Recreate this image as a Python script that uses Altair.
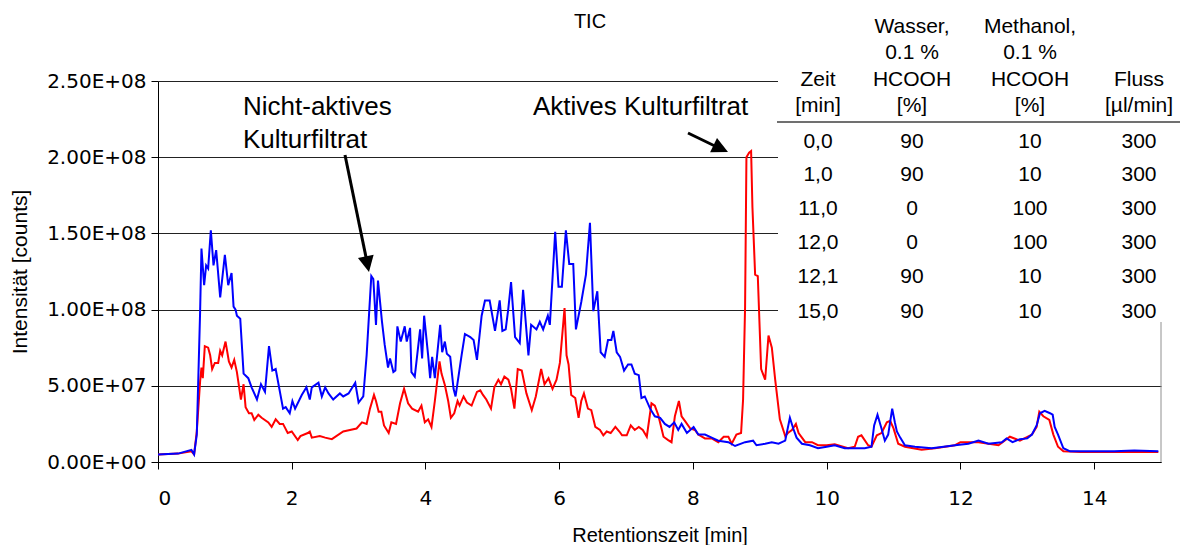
import altair as alt
import pandas as pd

# ---------------- data (minutes, intensity in millions of counts) ----------------
blue_t = [0.00, 0.30, 0.50, 0.54, 0.58, 0.63, 0.65, 0.69, 0.72, 0.75, 0.79, 0.83, 0.87, 0.93, 1.00,
          1.05, 1.10, 1.13, 1.16, 1.18, 1.23, 1.28, 1.35, 1.40, 1.48, 1.54, 1.60, 1.66, 1.71, 1.76,
          1.87, 1.91, 1.97, 2.01, 2.05, 2.15, 2.22, 2.27, 2.30, 2.40, 2.45, 2.50, 2.55, 2.62, 2.72,
          2.77, 2.85, 2.95, 3.00, 3.07, 3.12, 3.19, 3.22, 3.26, 3.29, 3.35, 3.39, 3.44, 3.47, 3.52,
          3.55, 3.58, 3.63, 3.69, 3.72, 3.77, 3.79, 3.84, 3.92, 3.95, 3.98, 4.04, 4.07, 4.10, 4.14,
          4.22, 4.25, 4.29, 4.32, 4.37, 4.42, 4.45, 4.54, 4.59, 4.67, 4.72, 4.77, 4.84, 4.89, 4.96,
          5.04, 5.11, 5.15, 5.20, 5.24, 5.28, 5.34, 5.41, 5.46, 5.54, 5.58, 5.66, 5.71, 5.76, 5.83,
          5.86, 5.94, 5.99, 6.04, 6.10, 6.15, 6.21, 6.25, 6.33, 6.40, 6.46, 6.51, 6.57, 6.62, 6.68,
          6.73, 6.78, 6.81, 6.86, 6.91, 6.97, 7.03, 7.08, 7.13, 7.19, 7.23, 7.28, 7.36, 7.43, 7.51,
          7.58, 7.65, 7.72, 7.78, 7.83, 7.91, 8.01, 8.08, 8.18, 8.28, 8.38, 8.53, 8.63, 8.78, 8.90,
          8.95, 9.08, 9.18, 9.28, 9.38, 9.45, 9.50, 9.55, 9.63, 9.75, 9.87, 10.00, 10.12, 10.27, 10.57,
          10.67, 10.71, 10.76, 10.82, 10.87, 10.92, 10.98, 11.02, 11.05, 11.10, 11.17, 11.32, 11.57, 11.75, 11.92,
          12.12, 12.27, 12.42, 12.62, 12.69, 12.78, 12.89, 13.00, 13.07, 13.14, 13.19, 13.26, 13.34, 13.38, 13.41,
          13.46, 13.54, 13.64, 14.00, 14.30, 14.60, 14.96]
blue_v = [5, 5.5, 8, 5, 18, 99, 140, 116, 129, 127, 152, 129, 139, 108, 136,
          116, 124, 102, 100, 96, 94, 58, 55, 49, 41, 51, 46, 76, 60, 61,
          35, 36, 32, 40, 35, 44, 49, 41, 49, 52, 43, 49, 45, 41, 45,
          43, 45, 52, 39, 43, 70, 122, 120, 90, 119, 92, 77, 62, 68, 59,
          60, 89, 79, 89, 79, 88, 59, 56, 87, 68, 96, 70, 55, 69, 55,
          90, 72, 79, 71, 69, 48, 43, 70, 84, 82, 80, 67, 96, 106, 106,
          86, 106, 86, 87, 101, 118, 82, 78, 113, 70, 90, 87, 92, 87, 96,
          90, 151, 115, 115, 152, 130, 130, 87, 105, 123, 157, 99, 112, 72, 69,
          80, 80, 86, 72, 69, 60, 64, 64, 58, 57, 42, 43, 35, 30, 29,
          25, 23, 26, 21, 25, 19, 23, 18, 18, 16, 14, 13, 10.5, 13, 14,
          11, 12, 13, 12, 14, 29, 22, 16, 12, 11, 9, 10, 11, 9, 9,
          10, 24, 31, 22, 14, 18, 35, 26, 20, 16, 11, 10, 9, 10, 11,
          12, 14, 12, 13, 15.5, 13, 15, 15.5, 18, 24, 32, 33.5, 32, 31, 23,
          18, 9, 7, 7, 7, 7.5, 7]

red_t = [0.00, 0.30, 0.50, 0.54, 0.58, 0.63, 0.65, 0.67, 0.70, 0.75, 0.78, 0.81, 0.85, 0.90, 0.93,
         0.96, 1.01, 1.06, 1.10, 1.14, 1.18, 1.20, 1.24, 1.28, 1.31, 1.36, 1.40, 1.44, 1.50, 1.55,
         1.65, 1.70, 1.76, 1.82, 1.87, 1.94, 2.00, 2.09, 2.13, 2.24, 2.27, 2.30, 2.42, 2.50, 2.60,
         2.77, 2.87, 2.97, 3.05, 3.12, 3.17, 3.23, 3.26, 3.30, 3.34, 3.38, 3.45, 3.49, 3.56, 3.62,
         3.68, 3.74, 3.80, 3.89, 3.94, 3.99, 4.04, 4.09, 4.14, 4.21, 4.24, 4.29, 4.34, 4.38, 4.43,
         4.48, 4.51, 4.57, 4.62, 4.69, 4.77, 4.82, 4.86, 4.91, 4.98, 5.03, 5.09, 5.13, 5.18, 5.24,
         5.28, 5.33, 5.38, 5.44, 5.51, 5.59, 5.65, 5.73, 5.78, 5.84, 5.90, 5.96, 6.01, 6.08, 6.11,
         6.14, 6.18, 6.24, 6.29, 6.33, 6.37, 6.43, 6.48, 6.54, 6.61, 6.66, 6.71, 6.77, 6.84, 6.90,
         6.94, 7.01, 7.07, 7.13, 7.19, 7.25, 7.31, 7.38, 7.43, 7.48, 7.56, 7.63, 7.68, 7.73, 7.79,
         7.83, 7.88, 7.96, 8.03, 8.08, 8.18, 8.28, 8.38, 8.46, 8.53, 8.58, 8.65, 8.72, 8.75, 8.78,
         8.80, 8.84, 8.87, 8.89, 8.93, 8.97, 9.02, 9.08, 9.13, 9.18, 9.23, 9.30, 9.38, 9.42, 9.48,
         9.54, 9.58, 9.68, 9.78, 9.87, 10.00, 10.12, 10.32, 10.42, 10.47, 10.52, 10.62, 10.67, 10.75, 10.82,
         10.90, 10.95, 11.00, 11.07, 11.17, 11.42, 11.62, 11.92, 12.00, 12.27, 12.57, 12.74, 12.89, 13.07, 13.14,
         13.18, 13.24, 13.33, 13.39, 13.46, 13.54, 13.80, 14.20, 14.60, 14.96]
red_v = [5, 5.5, 7, 5, 20, 53, 62, 55, 76, 75, 70, 61, 65, 65, 73,
         70, 79, 66, 62, 67, 59, 53, 41, 51, 36, 32, 32, 27.6, 31, 29,
         26, 23, 28, 25, 25, 19, 20, 14.4, 17, 19, 20, 16, 17, 16, 15,
         20, 21, 22, 26, 25, 35, 44, 40, 33, 33, 24, 19, 26, 25, 38.5,
         48, 38.5, 35, 33, 37, 26, 28, 23, 40, 66, 58, 50.5, 40, 29, 32,
         40, 37, 43, 39, 37, 46, 47, 44, 41, 35, 49, 54, 51, 56, 54,
         48, 35, 61, 60, 45, 34, 43, 61, 51, 55, 48, 54, 65, 101, 70,
         64, 44, 42, 29, 40, 45, 35, 34, 23, 21, 17.5, 20, 19, 23, 20,
         17.5, 17.5, 24, 21, 23, 21, 16.6, 38.5, 37, 31, 16.6, 14.4, 13, 30, 40,
         30, 27, 22, 21, 18, 15.5, 15.5, 13, 16.6, 16.6, 12, 18, 19, 41, 102,
         200, 203, 204, 167, 123, 122, 61, 54, 83, 75, 54, 28, 17, 19, 21,
         25, 19, 13, 13, 11, 11, 11.6, 9, 10, 16.6, 17.5, 11, 10, 17.5, 19,
         26, 27, 22, 12, 10, 8, 9, 11, 13, 13, 11, 16.6, 14, 18, 23,
         33, 30, 27.6, 18, 10, 7, 6.5, 6.5, 6.5, 6.5]

x_ticks = [0, 2, 4, 6, 8, 10, 12, 14]
y_ticks = [0, 50, 100, 150, 200, 250]

# gradient table
tab_zeit = ["0,0", "1,0", "11,0", "12,0", "12,1", "15,0"]
tab_wasser = ["90", "90", "0", "0", "90", "90"]
tab_methanol = ["10", "10", "100", "100", "10", "10"]
tab_fluss = ["300", "300", "300", "300", "300", "300"]
head_zeit = ["", "", "Zeit", "[min]"]
head_wasser = ["Wasser,", "0.1 %", "HCOOH", "[%]"]
head_methanol = ["Methanol,", "0.1 %", "HCOOH", "[%]"]
head_fluss = ["", "", "Fluss", "[µl/min]"]

# ---------------- layout ----------------
W, H = 1003, 381
L, T = 158, 81
X_MAX, Y_MAX = 15, 250

col_px = [818, 912, 1030, 1139]
head_py = [27, 53, 80, 106]
row_py = [142, 175, 209, 243, 277, 312]

recs = []
for c, col in enumerate([head_zeit, head_wasser, head_methanol, head_fluss]):
    for r, s in enumerate(col):
        if s:
            recs.append({"px": col_px[c] - L, "py": head_py[r] - T, "s": s})
for c, col in enumerate([tab_zeit, tab_wasser, tab_methanol, tab_fluss]):
    for r, s in enumerate(col):
        recs.append({"px": col_px[c] - L, "py": row_py[r] - T, "s": s})

ann = [(243, 107, "Nicht-aktives"), (243, 140, "Kulturfiltrat"), (533, 107, "Aktives Kulturfiltrat")]

xs = alt.Scale(domain=[0, X_MAX], nice=False, zero=False)
ys = alt.Scale(domain=[0, Y_MAX], nice=False)

x_axis = alt.Axis(values=x_ticks, format="d", grid=False, domainColor="black", tickColor="black",
                  tickSize=7, labelFont="DejaVu Sans", labelFontSize=20, labelColor="black",
                  labelPadding=19, title="Retentionszeit [min]", titleFont="Liberation Sans",
                  titleFontSize=20, titleFontWeight="normal", titleColor="black",
                  titleX=W / 2, titleY=73, titleBaseline="middle")
y_axis = alt.Axis(values=y_ticks, grid=True, gridColor="#222222", gridWidth=1,
                  domainColor="black", tickColor="black", tickSize=7,
                  labelFont="DejaVu Sans", labelFontSize=20, labelColor="black", labelPadding=5,
                  labelExpr="datum.value == 0 ? '0.00E+00' : (datum.value < 100 ? format(datum.value / 10, '.2f') + 'E+07' : format(datum.value / 100, '.2f') + 'E+08')",
                  title="Intensität [counts]", titleFont="Liberation Sans", titleFontSize=21,
                  titleFontWeight="normal", titleColor="black",
                  titleX=20 - L, titleY=H / 2, titleBaseline="middle", titleAngle=-90)

red_df = pd.DataFrame({"t": red_t, "v": red_v})
blue_df = pd.DataFrame({"t": blue_t, "v": blue_v})

red_line = alt.Chart(red_df).mark_line(color="#FF0000", strokeWidth=2).encode(
    x=alt.X("t:Q", scale=xs, axis=x_axis), y=alt.Y("v:Q", scale=ys, axis=y_axis))
blue_line = alt.Chart(blue_df).mark_line(color="#0000FF", strokeWidth=2).encode(
    x=alt.X("t:Q", scale=xs, axis=x_axis), y=alt.Y("v:Q", scale=ys, axis=y_axis))

dummy = pd.DataFrame({"a": [0]})
white_box = alt.Chart(dummy).mark_rect(color="white").encode(
    x=alt.value(620), x2=alt.value(1023), y=alt.value(-81), y2=alt.value(241))
head_rule = alt.Chart(dummy).mark_rule(color="#707070", strokeWidth=2).encode(
    x=alt.value(619), x2=alt.value(1022), y=alt.value(41))
right_border = alt.Chart(dummy).mark_rule(color="#909090", strokeWidth=1).encode(
    x=alt.value(W), y=alt.value(241), y2=alt.value(H))


def txt(px, py, s, size, align):
    return alt.Chart(dummy).mark_text(font="Liberation Sans", fontSize=size, align=align,
                                      baseline="middle", color="black", text=s).encode(
        x=alt.value(px), y=alt.value(py))


text_layers = [txt(r["px"], r["py"], r["s"], 21, "center") for r in recs]
text_layers += [txt(px - L, py - T, s, 26, "left") for px, py, s in ann]
text_layers.append(txt(590 - L, 22 - T, "TIC", 20, "center"))

arrow_path = "M0,0 L-0.5,1 L0.5,1 Z"
shaft1 = alt.Chart(dummy).mark_rule(color="black", strokeWidth=3).encode(
    x=alt.value(345 - L), y=alt.value(155 - T), x2=alt.value(367 - L), y2=alt.value(262 - T))
head1 = alt.Chart(dummy).mark_point(shape=arrow_path, size=1024, filled=True, color="black",
                                    opacity=1, angle=168.4).encode(
    x=alt.value(369 - L), y=alt.value(272 - T))
shaft2 = alt.Chart(dummy).mark_rule(color="black", strokeWidth=3).encode(
    x=alt.value(688 - L), y=alt.value(133 - T), x2=alt.value(719 - L), y2=alt.value(148 - T))
head2 = alt.Chart(dummy).mark_point(shape=arrow_path, size=1024, filled=True, color="black",
                                    opacity=1, angle=115.5).encode(
    x=alt.value(728 - L), y=alt.value(152 - T))

chart = alt.layer(
    red_line, blue_line, white_box, head_rule, right_border,
    *text_layers, shaft1, head1, shaft2, head2
).properties(
    width=W, height=H,
    autosize=alt.AutoSizeParams(type="none"),
    padding={"left": L, "top": T, "right": 1181 - L - W, "bottom": 545 - T - H},
    background="white",
).configure_view(strokeWidth=0)

chart.save("out.html", embed_options={"renderer": "svg", "actions": False})
